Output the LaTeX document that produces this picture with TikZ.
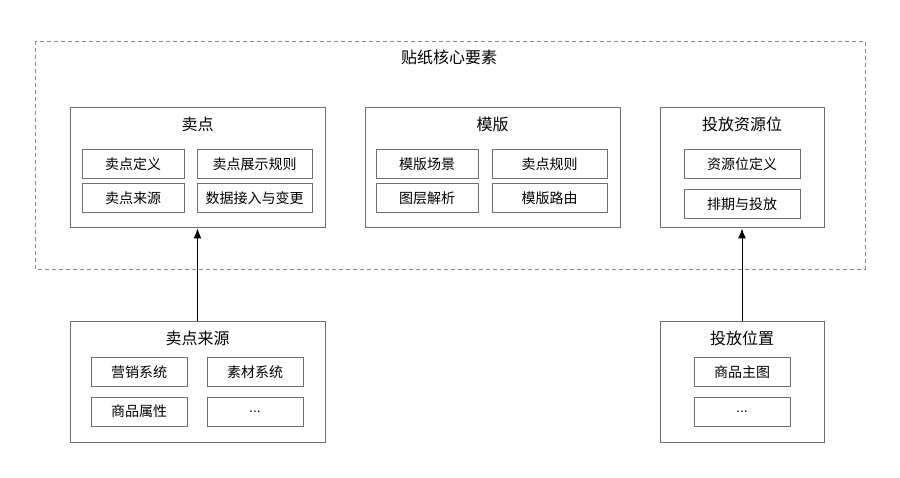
\documentclass[tikz,border=0pt]{standalone}
\usepackage{fontspec}
\setmainfont{Noto Sans CJK SC}
\newfontfamily\latinfont{Liberation Sans}
\usepackage{xcolor}
\usetikzlibrary{arrows.meta, positioning}

\definecolor{boxgray}{HTML}{6E6E6E}
\definecolor{dashgray}{HTML}{8A8A8A}

\tikzset{
	panel/.style={draw=boxgray, line width=1pt, minimum width=#1, minimum height=120pt, inner sep=0pt},
	item/.style={draw=boxgray, line width=1pt, minimum width=#1, minimum height=29pt, inner sep=0pt, font=\fontsize{14}{16}\selectfont},
	title/.style={font=\fontsize{16}{18}\selectfont},
	feed/.style={-{Latex[length=10pt,width=8pt]}, line width=1pt, black}
}

\begin{document}
\begin{tikzpicture}[x=1pt, y=-1pt]
		\useasboundingbox (0,0) rectangle (900,478);
		
		% Dashed frame
		\draw[dashgray, line width=0.8pt, dash pattern=on 4pt off 3pt] (35,41) rectangle (865,269);
		\node[title] (core) at (449,57) {贴纸核心要素};
		
		% Panels
		\node[panel=255pt] (sell) at (197.5,168) {};
		\node[panel=255pt] (tpl) at (492.5,168) {};
		\node[panel=164pt] (slot) at (742,168) {};
		\node[panel=255pt] (src) at (197.5,382) {};
		\node[panel=164pt] (pos) at (742,382) {};
		
		% Panel titles
		\node[title] at (197.5,124) {卖点};
		\node[title] at (492.5,124) {模版};
		\node[title] at (742,124) {投放资源位};
		\node[title] at (197.5,338) {卖点来源};
		\node[title] at (742,338) {投放位置};
		
		% Items
		\node[item=102pt] (s1) at (133,164.5) {卖点定义};
		\node[item=115pt] (s2) at (254.5,164.5) {卖点展示规则};
		\node[item=102pt] (s3) at (133,198.5) {卖点来源};
		\node[item=115pt] (s4) at (254.5,198.5) {数据接入与变更};
		
		\node[item=102pt] (t1) at (427,164.5) {模版场景};
		\node[item=115pt] (t2) at (549.5,164.5) {卖点规则};
		\node[item=102pt] (t3) at (427,198.5) {图层解析};
		\node[item=115pt] (t4) at (549.5,198.5) {模版路由};
		
		\node[item=116pt] (r1) at (742,164.5) {资源位定义};
		\node[item=116pt] (r2) at (742,204.5) {排期与投放};
		
		\node[item=96pt] (m1) at (139,372.5) {营销系统};
		\node[item=96pt] (m2) at (255,372.5) {素材系统};
		\node[item=96pt] (m3) at (139,411.5) {商品属性};
		\node[item=96pt] (m4) at (255,411.5) {\latinfont ...};
		
		\node[item=96pt] (p1) at (742,372.5) {商品主图};
		\node[item=96pt] (p2) at (742,411.5) {\latinfont ...};
		
		% Connectors
		\draw[feed] (src.north) -- (sell.south);
		\draw[feed] (pos.north) -- (slot.south);
	\end{tikzpicture}
\end{document}
